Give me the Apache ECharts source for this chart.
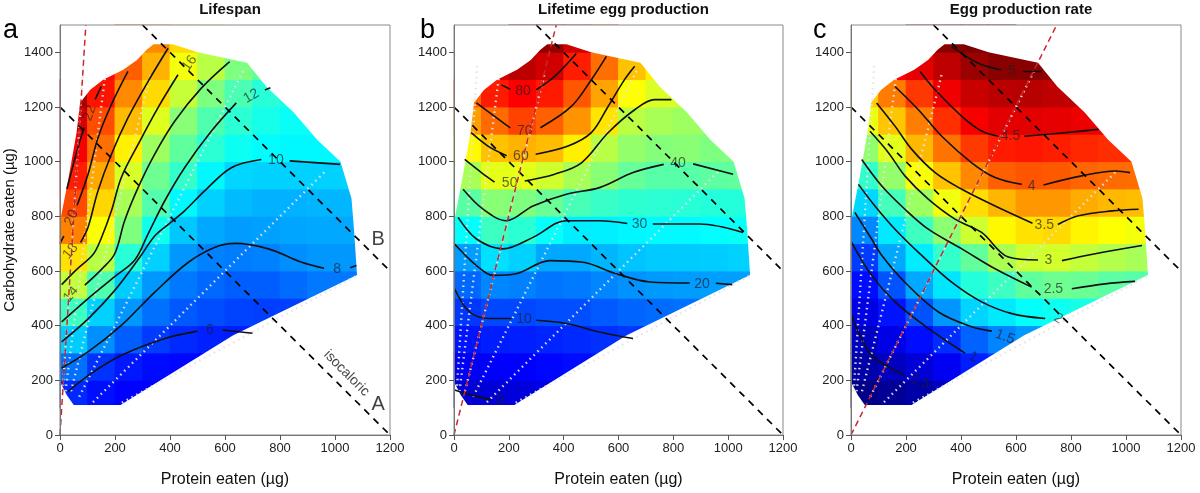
<!DOCTYPE html>
<html>
<head>
<meta charset="utf-8">
<script src="https://cdn.jsdelivr.net/npm/echarts@6/dist/echarts.min.js"></script>
<style>
html, body { margin: 0; padding: 0; background: #fff; }
#chart { width: 1200px; height: 493px; }
</style>
</head>
<body>
<div id="chart"></div>
<script>
// cell centres of the fitted surfaces (protein x, carbohydrate y)
var gridX = [50, 150, 250, 350, 450, 550, 650, 750, 850, 950, 1050];
var gridY = [150, 250, 350, 450, 550, 650, 750, 850, 950, 1050, 1150, 1250, 1350, 1450];

// a: lifespan (days)
var lifespanGrid = [
  [5.8, 5.2, 4.9, 4.8, 4.8],
  [7.4, 6.0, 5.4, 5.1, 5.0, 4.9, 4.9],
  [9.5, 8.1, 7.0, 6.2, 5.8, 5.6, 5.5, 5.5],
  [12, 9.6, 8.3, 7.4, 6.9, 6.6, 6.4, 6.3, 6.3, 6.4],
  [15, 12.4, 9.5, 8.3, 7.6, 7.2, 7.0, 7.0, 7.3, 7.6, 7.6],
  [17, 14.8, 11.5, 9.6, 8.3, 7.8, 7.7, 7.8, 8.1, 8.3, 8.3],
  [19.2, 16.3, 13.5, 11, 9.4, 8.7, 8.4, 8.5, 8.6, 8.7, 8.7],
  [20.5, 17.3, 14.4, 12.5, 10.5, 9.6, 9.1, 8.9, 8.9, 9.0, 9.0],
  [21.5, 18.3, 15.5, 13.1, 11.8, 10.5, 9.7, 9.6, 9.6, 9.6, 9.6],
  [22.3, 19.6, 16.7, 14.2, 12.8, 11.6, 10.9, 10.6, 10.5, 10.5, 10.5],
  [23, 20.4, 17.9, 15.7, 13.7, 12.4, 11.6, 11.1, 10.8, 10.7],
  [24, 21.7, 19.0, 17.2, 15.1, 13.5, 12.3, 11.5, 11.2],
  [null, 22, 20, 18.1, 16.1, 14.8, 13.5, 12.8],
  [null, null, 20, 19, 17.2, 15.5]
];

// b: lifetime egg production
var eggGrid = [
  [0.2, 0.6, 1.2, 2, 2.7],
  [3.5, 4.1, 4.4, 5, 5.6, 6.3, 7],
  [6.4, 7.4, 7.5, 8, 8.5, 9.2, 9.9, 10.3],
  [9.9, 11.5, 11.6, 12.2, 12.2, 13.4, 14.4, 15, 15.5, 15.8],
  [14.7, 17.8, 17.2, 16, 16.5, 17.7, 18.9, 19.6, 19.9, 20, 20],
  [20, 26.6, 25, 21, 21, 22.4, 23.7, 24.3, 24.4, 24.6, 25],
  [29.8, 35.5, 33.7, 30, 27.8, 28, 28.7, 29, 29, 29.5, 30.3],
  [38.5, 43, 42, 39.8, 36.5, 35, 34, 33.8, 33.5, 33, 33],
  [46, 52, 52, 50, 46, 43, 39.5, 38, 38, 38.8, 39],
  [55, 60.5, 62, 61, 56, 47.7, 44, 42.6, 43, 42, 42],
  [64, 69, 73, 70, 65, 57, 48, 46, 45, 44.5],
  [70, 76.8, 79.5, 77, 71, 63.5, 54.4, 51, 50],
  [null, 84, 86, 84, 76.7, 68.7, 60.5, 56],
  [null, null, 88, 90, 84, 74]
];

// c: egg production rate
var rateGrid = [
  [0.25, 0.3, 0.4, 0.5, 0.6],
  [0.4, 0.5, 0.62, 0.75, 0.95, 1.1, 1.2],
  [0.52, 0.7, 0.87, 1.03, 1.29, 1.45, 1.55, 1.6],
  [0.69, 0.9, 1.21, 1.53, 1.83, 1.93, 2.05, 2.1, 2.15, 2.2],
  [0.87, 1.22, 1.62, 1.92, 2.21, 2.33, 2.5, 2.57, 2.55, 2.48, 2.45],
  [1.1, 1.62, 1.95, 2.28, 2.51, 2.86, 3.03, 3.05, 2.98, 2.9, 2.84],
  [1.47, 1.94, 2.34, 2.71, 3.03, 3.29, 3.4, 3.44, 3.31, 3.26, 3.21],
  [1.85, 2.37, 2.79, 3.2, 3.42, 3.61, 3.76, 3.76, 3.66, 3.6, 3.58],
  [2.29, 2.75, 3.23, 3.55, 3.83, 4.03, 4.08, 4.06, 4.0, 3.97, 3.96],
  [2.73, 3.13, 3.6, 3.93, 4.21, 4.36, 4.38, 4.35, 4.3, 4.27, 4.25],
  [3.17, 3.54, 3.88, 4.26, 4.53, 4.62, 4.62, 4.6, 4.58, 4.56],
  [3.5, 3.89, 4.22, 4.56, 4.75, 4.82, 4.83, 4.8, 4.78],
  [null, 4.5, 4.6, 4.8, 4.96, 5.05, 5.05, 5.0],
  [null, null, 4.8, 5.05, 5.2, 5.2]
];

// outline of the intake region that was sampled
var regionOutline = [[0,200],[0,780],[30,935],[60,1105],[73,1216],[110,1263],[157,1300],[230,1336],[280,1372],[315,1409],[340,1430],[410,1430],[500,1400],[680,1362],[750,1275],[850,1180],[935,1080],[1020,1000],[1060,865],[1070,740],[1080,585],[630,365],[220,110],[50,110],[25,145],[5,185]];

// contour segments (split where the level label sits)
var lifespanLines = [
  [[30,160],[120,230],[224,292],[382,353],[500,380]], [[590,384],[700,372]],
  [[6,245],[103,305],[224,402],[345,523],[467,632],[564,687],[636,701],[758,681],[879,632],[960,610]], [[1055,612],[1078,620]],
  [[6,341],[103,426],[200,530],[290,650],[345,729],[393,770],[453,820],[526,893],[623,978],[732,1008]], [[835,1003],[1018,990]],
  [[6,414],[103,500],[200,580],[272,640],[320,735],[381,857],[453,978],[550,1111],[641,1215]], [[745,1262],[765,1270]],
  [[90,548],[150,605],[199,663],[235,784],[284,905],[344,1027],[417,1148],[514,1269],[617,1366]],
  [[6,550],[60,605],[120,660],[150,720],[187,820],[223,942],[284,1063],[356,1197],[429,1318]],
  [[75,705],[102,760],[138,893],[187,1027],[247,1160],[320,1293],[393,1415]],
  [[0,700],[14,728]], [[62,840],[102,954],[138,1087],[187,1209],[247,1330]],
  [[25,900],[65,1051],[88,1125]], [[128,1228],[150,1275]]
];
var lifespanLabels = [[545,385,'6'],[1008,608,'8'],[785,1005,'10'],[696,1240,'12'],[40,515,'14'],[471,1360,'16'],[38,672,'18'],[42,795,'20'],[108,1178,'22']];
var lifespanLabelAngles = [0, 0, 0, 30, 50, 55, 50, 65, 70];

var eggLines = [
  [[2,165],[70,145],[136,128]],
  [[2,535],[57,450],[130,426],[210,426]], [[300,420],[410,408],[531,377],[653,353]],
  [[2,699],[82,620],[142,584],[227,590],[349,638],[471,632],[592,590],[714,560],[860,556]], [[955,555],[1015,550]],
  [[15,796],[82,717],[179,681],[288,723],[410,784],[531,784],[632,774]], [[725,772],[896,772],[1054,741]],
  [[33,899],[106,826],[191,784],[288,838],[410,881],[531,905],[653,960],[765,990]], [[872,992],[1018,954]],
  [[39,1008],[100,960],[148,925]], [[258,929],[367,954],[465,996],[562,1106],[659,1190],[732,1227],[793,1227]],
  [[63,1106],[124,1057],[192,1022]], [[298,1027],[416,1057],[501,1106],[562,1202],[622,1300],[659,1349]],
  [[82,1215],[148,1166],[205,1124]], [[315,1124],[428,1202],[501,1300],[556,1385]],
  [[173,1281],[205,1265]], [[300,1263],[367,1312],[446,1396]]
];
var eggLabels = [[167,127,'0'],[255,424,'10'],[905,553,'20'],[677,770,'30'],[817,994,'40'],[203,923,'50'],[244,1020,'60'],[258,1111,'70'],[252,1257,'80']];
var eggLabelAngles = [0, 0, 0, 0, 0, 0, 0, 0, 0];

var rateLines = [
  [[2,438],[75,292],[196,220]],
  [[2,705],[75,584],[160,487],[281,390],[415,299]],
  [[14,814],[75,717],[112,657],[196,559],[318,450],[439,396],[512,380]],
  [[27,917],[87,838],[160,753],[257,657],[366,559],[475,487],[585,444],[706,426]],
  [[39,1008],[112,911],[196,826],[281,753],[403,681],[524,608],[657,541]], [[803,535],[924,553],[1033,562]],
  [[69,1111],[136,1033],[196,948],[281,863],[378,790],[475,741],[572,651],[680,640]], [[767,638],[888,663],[1058,693]],
  [[93,1215],[160,1130],[221,1045],[306,960],[403,899],[524,838],[660,775]], [[752,770],[827,802],[949,820],[1046,826]],
  [[160,1275],[245,1190],[330,1093],[439,996],[524,942],[621,917]], [[700,915],[839,948],[961,966],[1015,960]],
  [[251,1330],[306,1263],[403,1166],[475,1112],[536,1093]], [[630,1093],[767,1105],[900,1118]],
  [[366,1421],[463,1360],[545,1336]], [[625,1330],[694,1330]]
];
var rateLabels = [[251,195,'0.5'],[445,286,'1'],[560,359,'1.5'],[754,426,'2'],[736,535,'2.5'],[718,638,'3'],[703,768,'3.5'],[657,911,'4'],[580,1093,'4.5'],[585,1330,'5']];
var rateLabelAngles = [-20, -25, -20, -30, 0, 0, 0, 0, 0, 0];

// diet rails (P:C 1:16 … 2:1), isocaloric lines and the optimum P:C ray of each trait
var rails = [[[10,160],[85,1360]], [[20,160],[165,1320]], [[40,160],[330,1320]], [[70,140],[670,1340]], [[120,120],[970,970]], [[225,118],[1078,582]]];
var isocaloricLines = [[[0,1200],[1200,0]], [[300,1500],[1200,600]]];
var optimumRays = [[[0,0],[94,1500]], [[0,0],[373,1500]], [[0,0],[748,1500]]];
var isoNotes = [[1157,110,'A'],[1157,717,'B']];
var isoCaption = [[1042,226,'isocaloric']];

var yTicks = [0, 200, 400, 600, 800, 1000, 1200, 1400];
var panelTitles = ['Lifespan', 'Lifetime egg production', 'Egg production rate'];
var panelLetters = ['a', 'b', 'c'];

var jet = ['#00007f','#0000ff','#007fff','#00ffff','#7fff7f','#ffff00','#ff7f00','#ff0000','#7f0000'];
var FONT = '"Liberation Sans", Arial, sans-serif';
var panelLeft = [60, 454, 851];
var panelWidth = [330, 329, 330];
var letterX = [3, 420, 813];
var cellHalf = 50;

function cellData(grid) {
  var out = [];
  grid.forEach(function (row, i) {
    row.forEach(function (v, j) {
      if (v !== null) out.push([gridX[j], gridY[i], v]);
    });
  });
  return out;
}

function renderCell(params, api) {
  var a = api.coord([api.value(0) - cellHalf, api.value(1) + cellHalf]);
  var b = api.coord([api.value(0) + cellHalf, api.value(1) - cellHalf]);
  return {
    type: 'rect',
    shape: { x: a[0] - 0.4, y: a[1] - 0.4, width: b[0] - a[0] + 0.8, height: b[1] - a[1] + 0.8 },
    style: { fill: api.visual('color') }
  };
}

function renderMask(params, api) {
  var ring = [[0,0],[0,1500],[1200,1500],[1200,0],[0,0]];
  var inner = [regionOutline[0]].concat(regionOutline.slice(1).reverse()).concat([regionOutline[0]]);
  var pts = ring.concat(inner).map(function (p) { return api.coord(p); });
  return { type: 'polygon', shape: { points: pts }, style: { fill: '#fff' } };
}

function plain(v) { return String(v); }

var panels = [
  { grid: lifespanGrid, lines: lifespanLines, labels: lifespanLabels, angles: lifespanLabelAngles, min: 2, max: 25 },
  { grid: eggGrid, lines: eggLines, labels: eggLabels, angles: eggLabelAngles, min: -8, max: 92 },
  { grid: rateGrid, lines: rateLines, labels: rateLabels, angles: rateLabelAngles, min: 0.2, max: 5.1 }
];

var grids = [], xAxes = [], yAxes = [], series = [], visualMaps = [], graphics = [];

panels.forEach(function (pn, i) {
  grids.push({
    left: panelLeft[i], top: 25, width: panelWidth[i], height: 412,
    show: true, borderColor: '#8a8a8a', borderWidth: 1, backgroundColor: 'transparent', z: 10
  });
  xAxes.push({
    gridIndex: i, type: 'value', min: 0, max: 1200, interval: 200, z: 10,
    name: 'Protein eaten (µg)', nameLocation: 'middle', nameGap: 37,
    nameTextStyle: { fontSize: 16, color: '#111', fontFamily: FONT },
    axisLine: { show: true, lineStyle: { color: '#777' } },
    axisTick: { show: true, length: 5, lineStyle: { color: '#555' } },
    axisLabel: { fontSize: 13, color: '#222', margin: 7, fontFamily: FONT, formatter: plain },
    splitLine: { show: false }
  });
  yAxes.push({
    gridIndex: i, type: 'value', min: 0, max: 1500, interval: 200, z: 10,
    name: i === 0 ? 'Carbohydrate eaten (µg)' : '', nameLocation: 'middle', nameGap: 43,
    nameTextStyle: { fontSize: 15, color: '#111', fontFamily: FONT },
    axisLine: { show: true, lineStyle: { color: '#777' } },
    axisTick: { show: true, length: 5, lineStyle: { color: '#555' }, customValues: yTicks },
    axisLabel: { fontSize: 13, color: '#222', margin: 7, fontFamily: FONT, customValues: yTicks, formatter: plain },
    splitLine: { show: false }
  });

  visualMaps.push({
    type: 'continuous', show: false, seriesIndex: series.length, dimension: 2,
    min: pn.min, max: pn.max, inRange: { color: jet }
  });
  series.push({
    type: 'custom', xAxisIndex: i, yAxisIndex: i, silent: true, animation: false,
    renderItem: renderCell, data: cellData(pn.grid)
  });
  series.push({
    type: 'custom', xAxisIndex: i, yAxisIndex: i, silent: true, animation: false,
    renderItem: renderMask, data: [[0, 0]]
  });

  rails.forEach(function (r) {
    series.push({
      type: 'line', xAxisIndex: i, yAxisIndex: i, data: r, symbol: 'none', silent: true, animation: false,
      lineStyle: { color: 'rgba(228,228,235,0.95)', width: 2.4, type: [1.5, 4] }
    });
  });
  pn.lines.forEach(function (seg) {
    series.push({
      type: 'line', xAxisIndex: i, yAxisIndex: i, data: seg, symbol: 'none', smooth: 0.35,
      silent: true, animation: false, lineStyle: { color: '#111', width: 1.6 }
    });
  });
  isocaloricLines.forEach(function (l) {
    series.push({
      type: 'line', xAxisIndex: i, yAxisIndex: i, data: l, symbol: 'none', silent: true, animation: false,
      lineStyle: { color: '#000', width: 1.7, type: [7, 6] }
    });
  });
  series.push({
    type: 'line', xAxisIndex: i, yAxisIndex: i, data: optimumRays[i], symbol: 'none', silent: true, animation: false,
    lineStyle: { color: '#c8282a', width: 1.5, type: [6, 4] }
  });
  series.push({
    type: 'scatter', xAxisIndex: i, yAxisIndex: i, symbolSize: 1, silent: true, animation: false,
    itemStyle: { color: 'rgba(0,0,0,0)' },
    label: { show: true, position: 'inside', formatter: '{b}', fontSize: 14, color: 'rgba(30,30,40,0.85)', fontFamily: FONT },
    data: pn.labels.map(function (l, k) {
      return { name: l[2], value: [l[0], l[1]], label: { rotate: pn.angles[k] } };
    })
  });

  graphics.push({
    type: 'text', x: panelLeft[i] + panelWidth[i] / 2 + 5, y: 2,
    style: { text: panelTitles[i], font: 'bold 15px ' + FONT, fill: '#111', textAlign: 'center' }
  });
  graphics.push({
    type: 'text', x: letterX[i], y: 17,
    style: { text: panelLetters[i], font: '27px ' + FONT, fill: '#000' }
  });
});

// annotations in panel a
series.push({
  type: 'scatter', xAxisIndex: 0, yAxisIndex: 0, symbolSize: 1, silent: true, animation: false,
  itemStyle: { color: 'rgba(0,0,0,0)' },
  label: { show: true, position: 'inside', formatter: '{b}', fontSize: 20, color: '#111', fontFamily: FONT },
  data: isoNotes.map(function (n) { return { name: n[2], value: [n[0], n[1]] }; })
});
series.push({
  type: 'scatter', xAxisIndex: 0, yAxisIndex: 0, symbolSize: 1, silent: true, animation: false,
  itemStyle: { color: 'rgba(0,0,0,0)' },
  label: { show: true, position: 'inside', formatter: '{b}', fontSize: 14, color: '#111', rotate: -45, fontFamily: FONT },
  data: isoCaption.map(function (n) { return { name: n[2], value: [n[0], n[1]] }; })
});

var chart = echarts.init(document.getElementById('chart'), null, { renderer: 'canvas' });
chart.setOption({
  animation: false,
  backgroundColor: '#fff',
  textStyle: { fontFamily: FONT },
  grid: grids,
  xAxis: xAxes,
  yAxis: yAxes,
  visualMap: visualMaps,
  graphic: graphics,
  series: series
});
</script>
</body>
</html>
